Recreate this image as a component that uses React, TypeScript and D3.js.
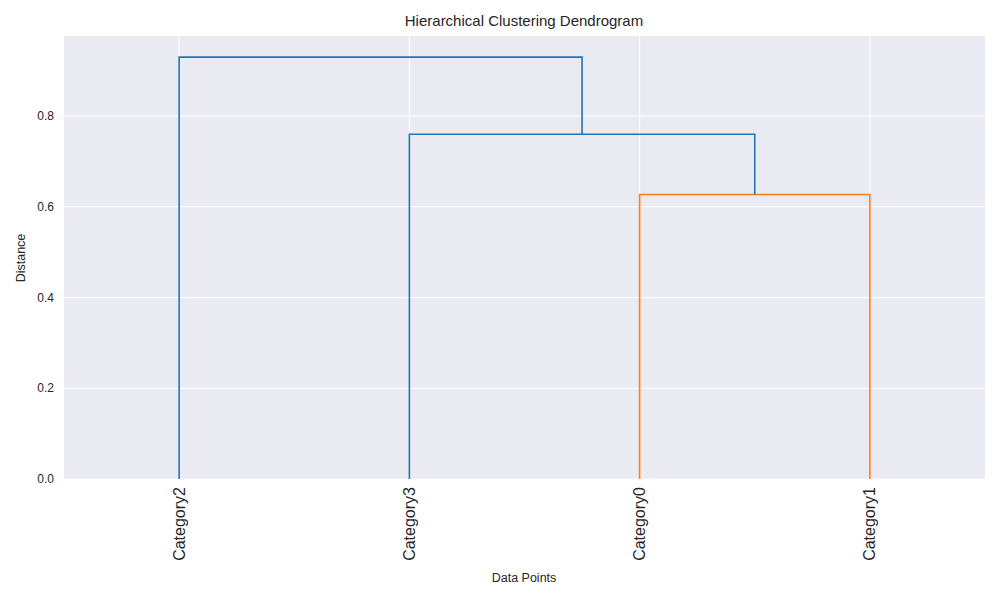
import React from "react";
import * as d3 from "d3";

const leaves = ["Category2", "Category3", "Category0", "Category1"];
// merges: [left node, right node, height, color]; nodes 0..3 leaves, 4+ merges
const merges: [number, number, number, string][] = [
  [2, 3, 0.627, "#ff7f0e"],
  [1, 4, 0.76, "#1f77b4"],
  [0, 5, 0.93, "#1f77b4"],
];
const yTicks = [0, 0.2, 0.4, 0.6, 0.8];

export default function App() {
  const W = 1000, H = 600;
  const x = d3.scaleLinear().domain([0, 40]).range([64, 985]);
  const y = d3.scaleLinear().domain([0, 0.9765]).range([479, 36]);
  const pos: { x: number; h: number }[] = leaves.map((_, i) => ({ x: 5 + 10 * i, h: 0 }));
  const paths: { d: string; c: string }[] = [];
  merges.forEach(([a, b, h, c]) => {
    const A = pos[a], B = pos[b];
    const p = d3.path();
    p.moveTo(x(A.x), y(A.h));
    p.lineTo(x(A.x), y(h));
    p.lineTo(x(B.x), y(h));
    p.lineTo(x(B.x), y(B.h));
    paths.push({ d: p.toString(), c });
    pos.push({ x: (A.x + B.x) / 2, h });
  });
  return (
    <svg width={W} height={H} style={{ position: "absolute", left: 0, top: 0 }} fontFamily="Arial, Liberation Sans, sans-serif">
      <rect x={64} y={36} width={921} height={443} fill="#eaeaf2" />
      {yTicks.map((t) => (
        <g key={t}>
          <line x1={64} x2={985} y1={y(t)} y2={y(t)} stroke="#fff" strokeWidth={1} />
          <text x={54} y={y(t)} dy="0.35em" textAnchor="end" fontSize={12} fill="#262626">{t.toFixed(1)}</text>
        </g>
      ))}
      {leaves.map((l, i) => (
        <g key={l}>
          <line x1={x(5 + 10 * i)} x2={x(5 + 10 * i)} y1={36} y2={479} stroke="#fff" strokeWidth={1} />
          <text transform={`translate(${x(5 + 10 * i)},487) rotate(-90)`} textAnchor="end" dy="0.35em" fontSize={16} fill="#262626">{l}</text>
        </g>
      ))}
      {paths.map((p, i) => (
        <path key={i} d={p.d} fill="none" stroke={p.c} strokeWidth={1.6} />
      ))}
      <text x={524} y={26} textAnchor="middle" fontSize={15} fill="#262626">Hierarchical Clustering Dendrogram</text>
      <text x={524} y={582} textAnchor="middle" fontSize={12.5} fill="#262626">Data Points</text>
      <text transform="translate(25,258) rotate(-90)" textAnchor="middle" fontSize={12.5} fill="#262626">Distance</text>
    </svg>
  );
}
